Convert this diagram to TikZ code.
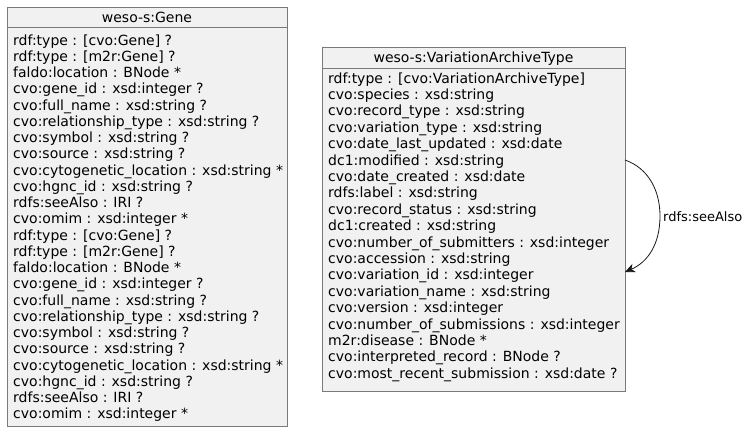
\documentclass[tikz,border=0pt]{standalone}
\usepackage{fontspec}
\setmainfont{DejaVu Sans}
\usetikzlibrary{arrows.meta}
\definecolor{boxfill}{HTML}{F1F1F1}
\definecolor{boxline}{HTML}{7A7A7A}
\definecolor{edgeline}{HTML}{181818}
\tikzset{
  classbox/.style={draw=boxline, fill=boxfill, line width=1pt, inner sep=0pt, anchor=north west},
  classname/.style={inner sep=0pt, anchor=base, font=\fontsize{14}{16.3}\selectfont},
  attr/.style={inner sep=0pt, anchor=base west, font=\fontsize{14}{16.3}\selectfont},
  edgelabel/.style={inner sep=0pt, anchor=west, font=\fontsize{13}{15}\selectfont},
  rel/.style={draw=edgeline, line width=0.8pt, -{Stealth[length=10pt,width=9pt,inset=3pt]}}
}
\begin{document}
\begin{tikzpicture}[x=1pt,y=-1pt]
\useasboundingbox (0,0) rectangle (756,432);

% class weso-s:Gene
\node[classbox, minimum width=280pt, minimum height=419pt] (gene) at (7,7) {};
\draw[boxline, line width=1pt] (7,27.5) -- (287,27.5);
\node[classname] (genename) at (147,22) {weso-s:Gene};
\foreach \t [count=\i from 0] in {
  {rdf:type : [cvo:Gene] ?},
  {rdf:type : [m2r:Gene] ?},
  {faldo:location : BNode *},
  {cvo:gene\_id : xsd:integer ?},
  {cvo:full\_name : xsd:string ?},
  {cvo:relationship\_type : xsd:string ?},
  {cvo:symbol : xsd:string ?},
  {cvo:source : xsd:string ?},
  {cvo:cytogenetic\_location : xsd:string *},
  {cvo:hgnc\_id : xsd:string ?},
  {rdfs:seeAlso : IRI ?},
  {cvo:omim : xsd:integer *},
  {rdf:type : [cvo:Gene] ?},
  {rdf:type : [m2r:Gene] ?},
  {faldo:location : BNode *},
  {cvo:gene\_id : xsd:integer ?},
  {cvo:full\_name : xsd:string ?},
  {cvo:relationship\_type : xsd:string ?},
  {cvo:symbol : xsd:string ?},
  {cvo:source : xsd:string ?},
  {cvo:cytogenetic\_location : xsd:string *},
  {cvo:hgnc\_id : xsd:string ?},
  {rdfs:seeAlso : IRI ?},
  {cvo:omim : xsd:integer *}}
  \node[attr] (ga\i) at (13,{45+16.26*\i}) {\t};

% class weso-s:VariationArchiveType
\node[classbox, minimum width=303pt, minimum height=344pt] (vat) at (322,47) {};
\draw[boxline, line width=1pt] (322,68) -- (625,68);
\node[classname] (vatname) at (473.5,62) {weso-s:VariationArchiveType};
\foreach \t [count=\i from 0] in {
  {rdf:type : [cvo:VariationArchiveType]},
  {cvo:species : xsd:string},
  {cvo:record\_type : xsd:string},
  {cvo:variation\_type : xsd:string},
  {cvo:date\_last\_updated : xsd:date},
  {dc1:modified : xsd:string},
  {cvo:date\_created : xsd:date},
  {rdfs:label : xsd:string},
  {cvo:record\_status : xsd:string},
  {dc1:created : xsd:string},
  {cvo:number\_of\_submitters : xsd:integer},
  {cvo:accession : xsd:string},
  {cvo:variation\_id : xsd:integer},
  {cvo:variation\_name : xsd:string},
  {cvo:version : xsd:integer},
  {cvo:number\_of\_submissions : xsd:integer},
  {m2r:disease : BNode *},
  {cvo:interpreted\_record : BNode ?},
  {cvo:most\_recent\_submission : xsd:date ?}}
  \node[attr] (va\i) at (328,{83+16.4*\i}) {\t};

% self reference
\coordinate (selfout) at (625,160);
\coordinate (selfin) at (625,272);
\draw[rel] (selfout) .. controls (648,168) and (660,190) .. (660,216)
  .. controls (660,244) and (648,262) .. (selfin);
\node[edgelabel] (seealso) at (663,217) {rdfs:seeAlso};
\end{tikzpicture}
\end{document}
